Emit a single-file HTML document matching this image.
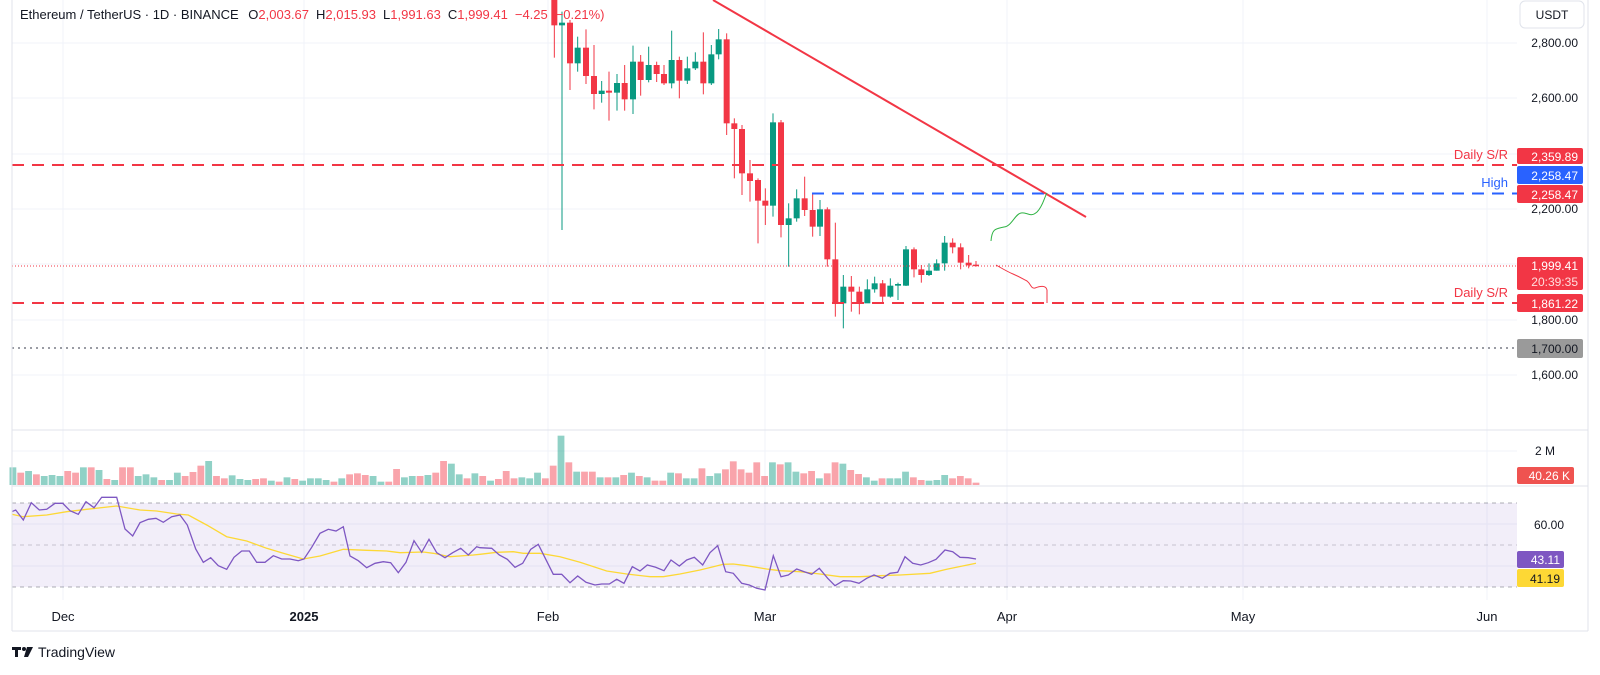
<!DOCTYPE html>
<html><head><meta charset="utf-8"><style>
html,body{margin:0;padding:0;background:#fff;}
body{width:1600px;height:670px;overflow:hidden;font-family:"Liberation Sans",sans-serif;}
svg text{font-family:"Liberation Sans",sans-serif;}
</style></head><body>
<svg id="s" width="1600" height="670" xmlns="http://www.w3.org/2000/svg">
<rect x="0" y="0" width="1600" height="670" fill="#fff"/>
<g id="grid" stroke="#f0f3fa" stroke-width="1"></g>
<!-- RSI band -->
<rect x="12" y="503" width="1505" height="84" fill="#7e57c2" fill-opacity="0.1"/>
<g stroke="#787b86" stroke-dasharray="4,4" stroke-width="1" opacity="0.6">
<line x1="12" y1="503" x2="1517" y2="503"/><line x1="12" y1="545" x2="1517" y2="545" opacity="0.6"/><line x1="12" y1="587" x2="1517" y2="587"/>
</g>
<g id="vol"></g>
<g id="cdl"></g>
<!-- level lines -->
<line x1="12" y1="165" x2="1517" y2="165" stroke="#f23645" stroke-width="2" stroke-dasharray="12,8"/>
<line x1="812" y1="193.5" x2="1517" y2="193.5" stroke="#2962ff" stroke-width="2" stroke-dasharray="12,8"/>
<line x1="12" y1="303" x2="1517" y2="303" stroke="#f23645" stroke-width="2" stroke-dasharray="12,8"/>
<line x1="12" y1="348" x2="1517" y2="348" stroke="#787b86" stroke-width="1.5" stroke-dasharray="2,4"/>
<line x1="12" y1="266" x2="1517" y2="266" stroke="#f23645" stroke-width="1" stroke-dasharray="1,2"/>
<line x1="713" y1="0" x2="1086" y2="217" stroke="#f23645" stroke-width="2"/>
<path d="M991,241 C992,228 996,229 1004,227 C1012,226 1015,214 1021,213 C1028,212 1030,218 1037,212 C1043,206 1044,198 1047,193" fill="none" stroke="#2fb344" stroke-width="1"/>
<path d="M996,265 C1003,269 1008,272 1013,274 C1020,277 1023,279 1027,281 C1031,284 1031,289 1035,288 C1040,286 1046,285 1047,290 L1047,303" fill="none" stroke="#f23645" stroke-width="1"/>
<text x="1508" y="159" text-anchor="end" font-size="13" fill="#f23645">Daily S/R</text>
<text x="1508" y="187" text-anchor="end" font-size="13" fill="#2962ff">High</text>
<text x="1508" y="297" text-anchor="end" font-size="13" fill="#f23645">Daily S/R</text>
<g id="rsi"></g>
<!-- pane borders -->
<g stroke="#e0e3eb" stroke-width="1">
<line x1="12" y1="430" x2="1588" y2="430"/><line x1="12" y1="486" x2="1588" y2="486"/>
<line x1="12" y1="631" x2="1588" y2="631"/><line x1="12" y1="0" x2="12" y2="631"/>
<line x1="1588" y1="0" x2="1588" y2="631"/>
</g>
<!-- axis labels -->
<g font-size="12" fill="#131722" text-anchor="end">
<text x="1578" y="47">2,800.00</text><text x="1578" y="102">2,600.00</text>
<text x="1578" y="213">2,200.00</text><text x="1578" y="324">1,800.00</text>
<text x="1578" y="379">1,600.00</text>
<text x="1535" y="455" text-anchor="start">2 M</text>
<text x="1564" y="529">60.00</text>
</g>
<rect x="1520" y="1" width="64" height="27" rx="5" fill="#fff" stroke="#e0e3eb"/>
<text x="1552" y="19" text-anchor="middle" font-size="12" fill="#131722">USDT</text>
<g font-size="12" fill="#fff" text-anchor="end">
<rect x="1517" y="148" width="66" height="16" rx="2" fill="#f23645"/><text x="1578" y="161">2,359.89</text>
<rect x="1517" y="166" width="66" height="18" rx="2" fill="#2962ff"/><text x="1578" y="180">2,258.47</text>
<rect x="1517" y="185" width="66" height="18" rx="2" fill="#f23645"/><text x="1578" y="199">2,258.47</text>
<rect x="1517" y="257" width="66" height="33" rx="2" fill="#f23645"/><text x="1578" y="270">1,999.41</text><text x="1578" y="286" fill="#fdd">20:39:35</text>
<rect x="1517" y="294" width="66" height="18" rx="2" fill="#f23645"/><text x="1578" y="308">1,861.22</text>
<rect x="1517" y="339" width="66" height="19" rx="2" fill="#9a9a9a"/><text x="1578" y="353" fill="#131722">1,700.00</text>
<rect x="1517" y="467" width="57" height="17" rx="2" fill="#ef5350"/><text x="1570" y="480">40.26 K</text>
<rect x="1517" y="551" width="47" height="17" rx="2" fill="#7e57c2"/><text x="1560" y="564">43.11</text>
<rect x="1517" y="569" width="47" height="18" rx="2" fill="#fdd835"/><text x="1560" y="583" fill="#131722">41.19</text>
</g>
<g font-size="13" fill="#131722" text-anchor="middle">
<text x="63" y="621">Dec</text><text x="304" y="621" font-weight="bold">2025</text>
<text x="548" y="621">Feb</text><text x="765" y="621">Mar</text><text x="1007" y="621">Apr</text>
<text x="1243" y="621">May</text><text x="1487" y="621">Jun</text>
</g>
<text x="20" y="19" font-size="13" fill="#131722">Ethereum / TetherUS · 1D · BINANCE <tspan dx="6">O</tspan><tspan fill="#f23645">2,003.67</tspan><tspan dx="7">H</tspan><tspan fill="#f23645">2,015.93</tspan><tspan dx="7">L</tspan><tspan fill="#f23645">1,991.63</tspan><tspan dx="7">C</tspan><tspan fill="#f23645">1,999.41</tspan><tspan dx="7" fill="#f23645">−4.25 (−0.21%)</tspan></text>
<g fill="#131722"><rect x="12" y="647" width="9" height="3"/><rect x="15" y="647" width="3" height="10"/><circle cx="24" cy="649" r="2"/><path d="M27,647 L33,647 L28,657 L24,657 Z"/></g>
<text x="38" y="657" font-size="14" fill="#131722">TradingView</text>
</svg>
<script>
var NS="http://www.w3.org/2000/svg";
function el(p,t,a){var e=document.createElementNS(NS,t);for(var k in a)e.setAttribute(k,a[k]);document.getElementById(p).appendChild(e);return e;}
// grid
[43,98,154,209,264,320,375,451,524,566].forEach(function(y){el('grid','line',{x1:12,y1:y,x2:1517,y2:y});});
[63,304,548,765,1007,1243,1487].forEach(function(x){el('grid','line',{x1:x,y1:0,x2:x,y2:600});});
// candles zx, bodyTop, bodyBottom, high, low, color
var C=[[103,-30,76,-40,173,'R'],[126,68,76,35,690,'G'],[150,68,190,60,270,'R'],[173,143,190,110,215,'G'],[198,143,228,88,252,'R'],[222,228,282,135,328,'R'],[245,272,282,243,308,'G'],[267,272,278,215,362,'R'],[291,249,278,222,332,'G'],[314,249,298,195,332,'R'],[339,185,298,137,342,'G'],[362,185,240,165,287,'R'],[386,195,240,140,247,'G'],[410,195,222,185,246,'R'],[432,222,250,195,255,'R'],[455,180,250,92,265,'G'],[478,180,242,170,295,'R'],[502,205,242,170,252,'G'],[526,185,205,157,210,'G'],[550,185,250,97,283,'R'],[574,163,250,135,255,'G'],[596,118,163,87,178,'G'],[620,118,370,100,405,'R'],[643,370,387,355,535,'R'],[666,387,520,375,585,'R'],[690,520,543,480,605,'R'],[714,540,602,535,730,'R'],[736,602,617,565,675,'R'],[759,367,617,340,650,'G'],[783,367,675,360,712,'R'],[806,655,675,610,800,'G'],[830,595,655,568,665,'G'],[854,595,630,530,648,'R'],[878,630,680,583,710,'R'],[900,628,680,600,708,'G'],[922,628,778,622,800,'R'],[946,778,910,668,950,'R'],[970,860,910,825,985,'G'],[994,860,875,828,935,'R'],[1018,875,910,860,943,'R'],[1042,868,910,838,908,'G'],[1064,850,868,830,878,'G'],[1088,850,890,840,910,'R'],[1111,857,890,835,893,'G'],[1134,852,857,848,900,'G'],[1158,748,857,738,858,'G'],[1182,748,808,742,832,'R'],[1204,808,825,795,848,'R'],[1227,812,825,790,828,'G'],[1250,790,812,778,812,'G'],[1274,728,790,708,812,'G'],[1298,728,742,715,760,'R'],[1322,742,788,730,808,'R'],[1346,788,796,765,805,'R'],[1368,794,798,783,800,'R']];
C.forEach(function(c){var x=520+c[0]/3,col=c[5]=='G'?'#089981':'#f23645';
el('cdl','line',{x1:x,y1:c[3]/3,x2:x,y2:c[4]/3,stroke:col,'stroke-width':1});
var t=c[1]/3,b=c[2]/3;if(b-t<1.5)b=t+1.5;el('cdl','rect',{x:x-3,y:t,width:6,height:b-t,fill:col});});
// volume
var V4="G142 R158 G153 R163 G168 G165 G168 R153 R158 G142 R142 G150 R177 G180 R142 R142 G168 G163 G172 R180 G180 G158 R168 R156 R137 G123 R168 R175 G166 G177 G180 R177 R175 G182 R185 G172 R177 G182 G175 G175 G180 R185 G175 R163 R160 R165 G168 G185 R185 R147 G172 G168 R168 G165 R158 R123 G131 G163 R175 G160".split(' ');
var V5="R168 G182 R177 R153 R175 G172 G175 G158 R175 R137 G47 R127 G155 R155 R155 G172 R172 G172 R165 G158 R168 G172 R182 R182 G158 R160 G175 G175 R145 G168 G160 R148 R124 R148 R158 R127 R168 G127 R133 G127 G155 R160 R153 G175 R160 R127 G131 R150 R162 G172 G182 R175 G175 G175 G155 R172 R180 G182 G180 G165 R175 R168 R175 R188".split(' ');
var V=V4.concat(V5),N=V.length;
V.forEach(function(v,i){var x=976-7.83*(N-1-i),y=420+parseInt(v.slice(1))/3;
el('vol','rect',{x:x-3.4,y:y,width:6.8,height:485-y,fill:v[0]=='G'?'#089981':'#f23645','fill-opacity':v[0]=='G'?0.45:0.45});});
// rsi
var R4=[35,275,47,270,70,300,94,248,118,270,140,268,165,250,188,250,210,272,235,283,258,245,282,263,305,232,350,232,375,327,398,348,420,308,445,298,468,295,490,307,515,290,540,285,562,315,587,387,610,427,632,413,655,437,680,448,702,412,725,393,748,393,770,427,795,427,820,407,845,417,870,417,895,422,912,417,935,382,960,340,985,328,1008,333,1030,320,1050,408,1075,422,1100,443,1125,430,1150,425,1172,428,1195,458,1218,427,1242,362,1265,397,1287,358,1310,398,1335,413,1358,398,1382,385,1405,405,1430,380];
var R5=[0,383,35,385,58,405,82,418,105,442,128,430,152,388,175,373,220,463,245,463,270,488,293,468,318,487,345,495,365,492,388,492,410,478,432,490,457,440,480,453,502,435,527,442,552,452,573,420,598,438,620,420,643,412,668,435,690,398,713,377,737,455,760,460,785,490,808,495,830,505,855,510,880,407,903,470,925,465,950,447,973,455,995,463,1018,445,1043,475,1065,497,1090,482,1112,483,1137,490,1160,475,1182,465,1207,475,1230,460,1253,457,1275,410,1298,430,1322,435,1345,428,1368,418,1395,390,1418,395,1440,412,1465,413,1488,417];
var M4=[35,283,70,290,140,285,200,275,260,268,350,258,420,270,470,273,530,282,565,285,620,315,680,350,740,363,800,385,850,400,910,417,960,408,1030,388,1100,391,1160,393,1200,398,1270,396,1300,400,1350,410,1420,405];
var M5=[0,403,50,397,100,395,130,400,180,400,240,410,300,427,380,453,440,462,510,470,550,470,600,462,660,450,700,440,730,433,760,432,800,437,860,447,900,452,960,455,1020,462,1080,470,1140,470,1200,467,1260,465,1350,460,1400,448,1488,430];
function pts(a,b){var s=[];for(var i=0;i<a.length;i+=2)s.push((a[i]/3).toFixed(1)+','+(420+a[i+1]/3).toFixed(1));for(i=0;i<b.length;i+=2)s.push((480+b[i]/3).toFixed(1)+','+(420+b[i+1]/3).toFixed(1));return s.join(' ');}
el('rsi','polyline',{points:pts(M4,M5),fill:'none',stroke:'#fdd835','stroke-width':1.3});
el('rsi','polyline',{points:pts(R4,R5),fill:'none',stroke:'#7e57c2','stroke-width':1.3});
</script>
</body></html>
